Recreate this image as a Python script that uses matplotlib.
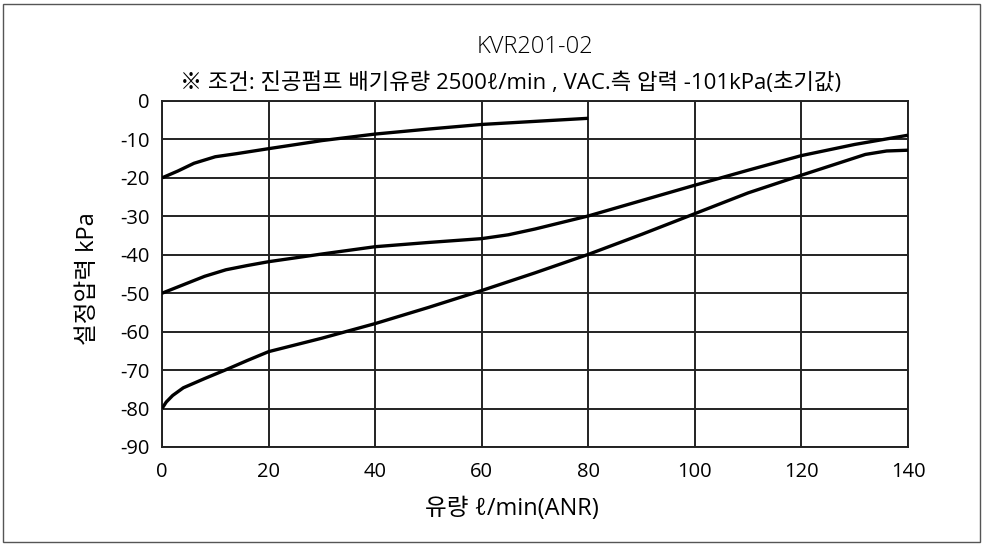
import matplotlib.pyplot as plt
from matplotlib.patches import Rectangle

plt.rcParams['font.family'] = ['Open Sans', 'Noto Sans CJK KR', 'DejaVu Sans']
plt.rcParams['axes.unicode_minus'] = False

# flow (l/min ANR) vs set pressure (kPa)
flow_a = [0, 3, 6, 10, 14, 20, 30, 40, 50, 60, 70, 80]
press_a = [-20, -18.2, -16.2, -14.5, -13.7, -12.4, -10.3, -8.6, -7.3, -6.1, -5.3, -4.5]

flow_b = [0, 4, 8, 12, 16, 20, 30, 40, 50, 60, 65, 70, 75, 80, 90, 100, 110, 120, 130, 140]
press_b = [-50, -47.8, -45.6, -43.9, -42.8, -41.8, -39.8, -37.9, -36.8, -35.8, -34.8, -33.3,
           -31.6, -29.9, -25.9, -21.9, -18.0, -14.2, -11.3, -8.9]

flow_c = [0, 0.8, 2, 4, 8, 12, 16, 20, 30, 40, 50, 60, 70, 80, 90, 100, 110, 120, 126, 132, 136, 140]
press_c = [-80, -78.3, -76.6, -74.6, -72.2, -69.9, -67.5, -65.2, -61.7, -57.9, -53.7, -49.3,
           -44.7, -39.9, -34.7, -29.3, -23.9, -19.3, -16.6, -13.9, -13.0, -12.8]

xticks = [0, 20, 40, 60, 80, 100, 120, 140]
yticks = [0, -10, -20, -30, -40, -50, -60, -70, -80, -90]

fig = plt.figure(figsize=(9.83, 5.45), dpi=100)
ax = fig.add_axes([162 / 983, 1 - 447 / 545, (908 - 162) / 983, (447 - 101) / 545])

for fx, py in [(flow_a, press_a), (flow_b, press_b), (flow_c, press_c)]:
    ax.plot(fx, py, color='black', lw=2.4, solid_capstyle='butt', zorder=3)

ax.set_xlim(0, 140)
ax.set_ylim(-90, 0)
ax.set_xticks(xticks)
ax.set_yticks(yticks)
ax.tick_params(length=0, labelsize=14.5, pad=9)
ax.tick_params(axis='x', pad=11)
ax.grid(True, color='#222222', lw=1.4)
for s in ax.spines.values():
    s.set_color('#222222')
    s.set_linewidth(1.4)

ax.set_xlabel('유량 ℓ/min(ANR)', fontsize=17)
ax.xaxis.set_label_coords(0.469, -0.145)
ax.set_ylabel('설정압력 kPa', fontsize=17)
ax.yaxis.set_label_coords(-0.083, 0.488)

fig.text(535 / 983, 1 - 47 / 545, 'KVR201-02', ha='center', va='center', fontsize=17,
         fontweight='light')
fig.text(511 / 983, 1 - 83 / 545, '※ 조건: 진공펌프 배기유량 2500ℓ/min , VAC.측 압력 -101kPa(초기값)',
         ha='center', va='center', fontsize=16)

fig.patches.append(Rectangle((3 / 983, 3 / 545), 977 / 983, 538 / 545, transform=fig.transFigure,
                             fill=False, edgecolor='#555555', lw=1))

fig.savefig('out.png', dpi=100)
